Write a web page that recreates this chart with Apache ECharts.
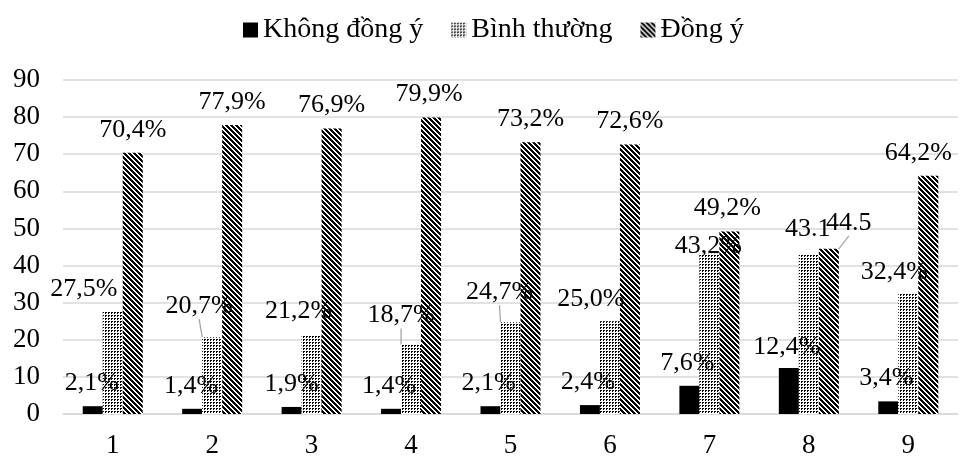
<!DOCTYPE html>
<html>
<head>
<meta charset="utf-8">
<script src="https://cdn.jsdelivr.net/npm/echarts@6/dist/echarts.min.js"></script>
<style>html,body{margin:0;padding:0;background:#fff;}#c{width:962px;height:459px;}</style>
</head>
<body>
<div id="c"></div>
<script>
// ---- data ----
const categories = ['1','2','3','4','5','6','7','8','9'];
const seriesNames = ['Không đồng ý', 'Bình thường', 'Đồng ý'];
const khongDongY = [2.1, 1.4, 1.9, 1.4, 2.1, 2.4, 7.6, 12.4, 3.4];
const binhThuong = [27.5, 20.7, 21.2, 18.7, 24.7, 25.0, 43.2, 43.1, 32.4];
const dongY = [70.4, 77.9, 76.9, 79.9, 73.2, 72.6, 49.2, 44.5, 64.2];
const khongDongYLabels = ['2,1%','1,4%','1,9%','1,4%','2,1%','2,4%','7,6%','12,4%','3,4%'];
const binhThuongLabels = ['27,5%','20,7%','21,2%','18,7%','24,7%','25,0%','43,2%','43.1','32,4%'];
const dongYLabels = ['70,4%','77,9%','76,9%','79,9%','73,2%','72,6%','49,2%','44.5','64,2%'];
const yTicks = { min: 0, max: 90, interval: 10 };

// ---- label layout nudges (Excel-like placement) ----
const nudge = [
  [[-1,0],[-1,0],[0,0],[-2,0],[-2,0],[-2,0],[-2,0],[-2,2],[-2,0]],
  [[-29,0],[-13,-8],[-13,-1],[-10,-6],[-11,-7],[-19,1],[-1,15],[-1,-2],[-14,1]],
  [[0,0],[0,0],[0,0],[-2,0],[0,0],[0,0],[-2,0],[20,-3],[-10,0]]
];
const leader = [
  [],
  [1,3,4],
  [7]
];

// ---- patterns ----
function makePixelTile(w, h, isBlack) {
  const c = document.createElement('canvas');
  c.width = w; c.height = h;
  const g = c.getContext('2d');
  const img = g.createImageData(w, h);
  for (let y = 0; y < h; y++) for (let x = 0; x < w; x++) {
    const k = (y * w + x) * 4;
    const v = isBlack(x, y) ? 0 : 255;
    img.data[k] = v; img.data[k+1] = v; img.data[k+2] = v; img.data[k+3] = 255;
  }
  g.putImageData(img, 0, 0);
  return c;
}
const dotTile = makePixelTile(3, 3, (x, y) => x < 2 && y < 2 && !(x === 1 && y === 1));
const hatchTile = makePixelTile(5, 5, (x, y) => ((((x - y) % 5) + 5) % 5) < 3);
const fills = ['#000', { image: dotTile, repeat: 'repeat' }, { image: hatchTile, repeat: 'repeat' }];

const FONT = "'Liberation Serif', 'Times New Roman', serif";
const values = [khongDongY, binhThuong, dongY];
const labels = [khongDongYLabels, binhThuongLabels, dongYLabels];

function buildSeries(si) {
  return {
    name: seriesNames[si],
    type: 'bar',
    barWidth: 20,
    barGap: '0%',
    itemStyle: { color: fills[si] },
    label: {
      show: true,
      position: 'top',
      distance: 10,
      color: '#000',
      fontFamily: FONT,
      fontSize: 26,
      formatter: p => labels[si][p.dataIndex]
    },
    labelLine: { show: false, lineStyle: { color: '#a6a6a6', width: 1.3 } },
    labelLayout: p => ({ dx: nudge[si][p.dataIndex][0], dy: nudge[si][p.dataIndex][1] }),
    data: values[si].map((v, i) => ({
      value: v,
      labelLine: { show: leader[si].indexOf(i) >= 0 }
    }))
  };
}

const chart = echarts.init(document.getElementById('c'), null, { renderer: 'canvas' });
chart.setOption({
  animation: false,
  backgroundColor: '#fff',
  textStyle: { fontFamily: FONT },
  legend: {
    top: 11,
    left: 238,
    itemWidth: 15,
    itemHeight: 15,
    itemGap: 28,
    icon: 'rect',
    textStyle: { fontFamily: FONT, fontSize: 28, color: '#000' },
    data: seriesNames
  },
  grid: { left: 63, right: 4, top: 80, bottom: 42 },
  xAxis: {
    type: 'category',
    data: categories,
    axisLine: { lineStyle: { color: '#d9d9d9', width: 1.5 } },
    axisTick: { show: false },
    axisLabel: { color: '#000', fontFamily: FONT, fontSize: 27, margin: 18 }
  },
  yAxis: {
    type: 'value',
    min: yTicks.min, max: yTicks.max, interval: yTicks.interval,
    axisLine: { show: false },
    axisTick: { show: false },
    axisLabel: { color: '#000', fontFamily: FONT, fontSize: 27, margin: 23 },
    splitLine: { lineStyle: { color: '#d9d9d9', width: 1.5 } }
  },
  series: [0, 1, 2].map(buildSeries)
});
</script>
</body>
</html>
